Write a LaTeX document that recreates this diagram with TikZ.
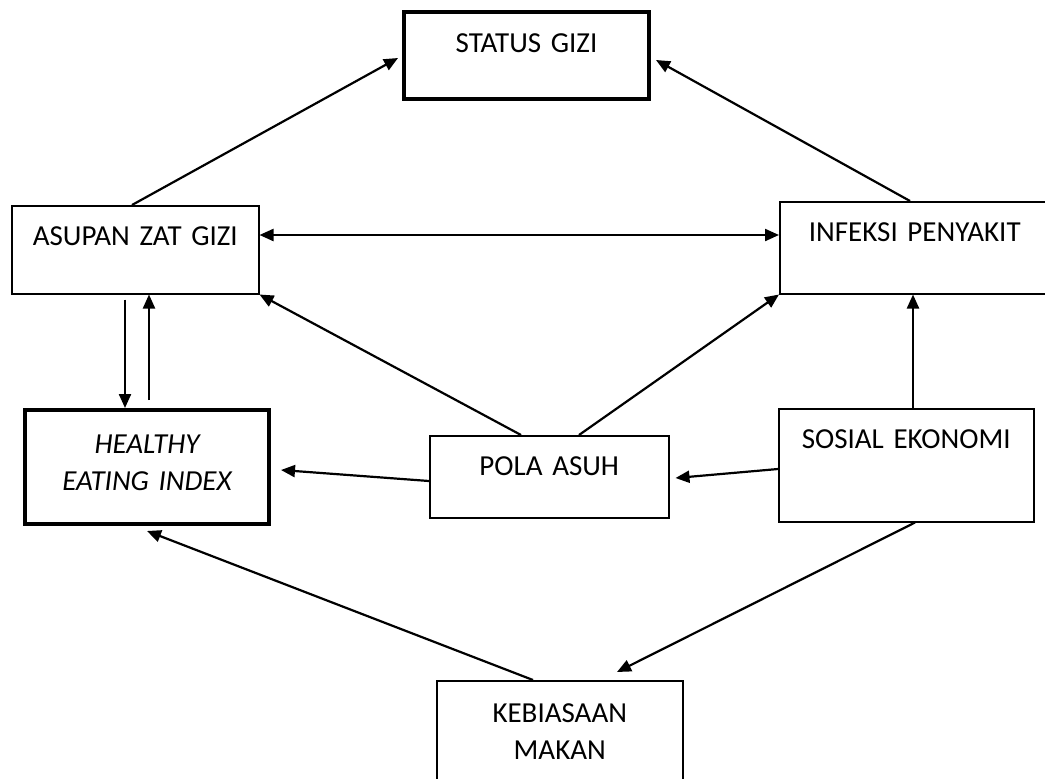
\documentclass[tikz,border=0pt]{standalone}
\usepackage{fontspec}
\setmainfont{Carlito}
\usepackage{tikz}
\usetikzlibrary{arrows.meta,calc}

\begin{document}
\begin{tikzpicture}[x=0.5pt, y=-0.5pt, font=\fontsize{14.5}{18.5}\selectfont]
        \tikzset{
            bx/.style={draw, line width=0.75pt, anchor=north west, align=center, inner sep=0pt, text width=112pt, text height=20pt},
            bxk/.style={bx, line width=2pt},
            arr/.style={-{Triangle[length=7pt,width=6pt]}, line width=1.1pt},
            arrs/.style={{Triangle[length=7pt,width=6pt]}-{Triangle[length=7pt,width=6pt]}, line width=1.1pt}
        }
        \useasboundingbox (0,0) rectangle (1045,778);
        \clip (0,0) rectangle (1045,778);

        % Boxes (top left corners)
        \node[bxk, minimum width=122.5pt, text depth=23.5pt] (status) at (402,10) {STATUS GIZI};
        \node[bx, minimum width=123.5pt, text depth=24pt] (asupan) at (11,205) {ASUPAN ZAT GIZI};
        \node[bx, minimum width=135pt, text depth=26pt] (infeksi) at (779,201) {INFEKSI PENYAKIT};
        \node[bxk, minimum width=122pt, text height=21.5pt, text depth=35.5pt] (hei) at (23,408) {\itshape HEALTHY\\\itshape EATING INDEX};
        \node[bx, minimum width=119.5pt, text depth=21pt] (pola) at (429,435) {POLA ASUH};
        \node[bx, minimum width=127.5pt, text depth=36.5pt] (sosial) at (778,408) {SOSIAL EKONOMI};
        \node[bx, minimum width=123pt, text height=21pt, text depth=40pt] (kebiasaan) at (436,680) {KEBIASAAN\\MAKAN};

        % Upper part
        \draw[arr] ($(asupan.north west)+(121,0)$) -- ($(status.north west)+(-4,48)$);
        \draw[arr] ($(infeksi.north west)+(131,0)$) -- ($(status.north east)+(5,50)$);
        \draw[arrs] ($(asupan.north east)+(0,30)$) -- ($(infeksi.north west)+(0,34)$);

        % Asupan and HEI
        \draw[arr] ($(asupan.south west)+(114,5)$) -- ($(hei.north west)+(102,0)$);
        \draw[arr] ($(hei.north west)+(126,-8)$) -- ($(asupan.south west)+(138,0)$);

        % Pola asuh
        \draw[arr] ($(pola.north west)+(92,0)$) -- (asupan.south east);
        \draw[arr] ($(pola.north west)+(150,0)$) -- (infeksi.south west);
        \draw[arr] ($(pola.north west)+(0,46)$) -- ($(hei.north east)+(10,62)$);

        % Sosial ekonomi
        \draw[arr] ($(sosial.north west)+(0,61)$) -- ($(pola.north east)+(6,43)$);
        \draw[arr] ($(sosial.north west)+(135,0)$) -- ($(infeksi.south west)+(134,0)$);
        \draw[arr] ($(sosial.south west)+(137,0)$) -- ($(kebiasaan.north west)+(181,-8)$);

        % Kebiasaan makan
        \draw[arr] ($(kebiasaan.north west)+(97,0)$) -- ($(hei.south west)+(124,5)$);
    \end{tikzpicture}
\end{document}
